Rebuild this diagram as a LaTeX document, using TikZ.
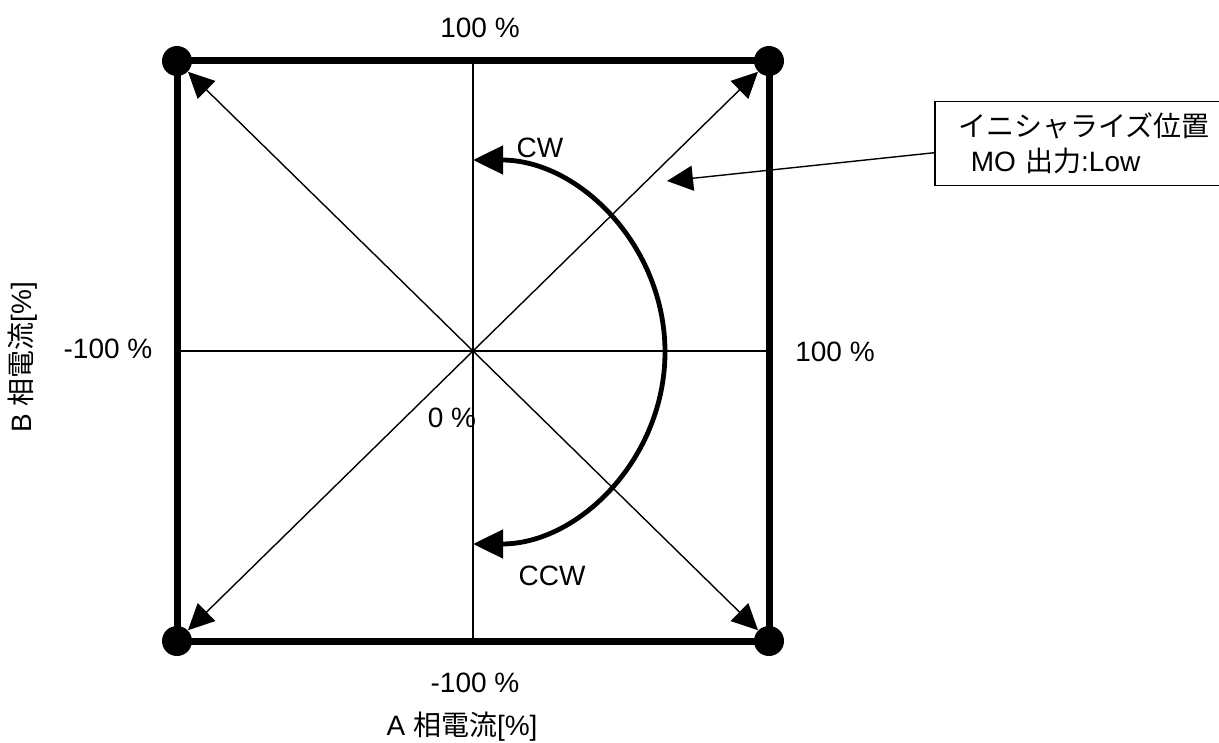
\documentclass[tikz,border=0pt]{standalone}
\usepackage{fontspec}
\setmainfont{Liberation Sans}
\newfontfamily\jpfont{Noto Sans CJK JP}
\usetikzlibrary{arrows.meta}

\tikzset{phdot/.style={circle,fill=black,inner sep=0pt,minimum size=15pt},
         phthin/.style={line width=0.7pt},
         phtip/.style={-{Triangle[length=13pt,width=12.5pt]}},
         phlab/.style={font=\fontsize{14}{17.5}\selectfont}}

\begin{document}
\begin{tikzpicture}[x=0.5pt, y=-0.5pt, every node/.style={phlab}]
  \clip (0,0) rectangle (1219,743);
  % corners and centre
  \coordinate (O) at (473,351);
  \draw[line width=3.5pt] (177,61) rectangle (769,641);
  \node[phdot] (tl) at (177,61) {};
  \node[phdot] (tr) at (769,61) {};
  \node[phdot] (br) at (769,641) {};
  \node[phdot] (bl) at (177,641) {};
  % axes
  \draw[phthin] (tl -| O) -- (bl -| O);
  \draw[phthin] (tl |- O) -- (tr |- O);
  % diagonals
  \foreach \c in {tl,tr,br,bl} \draw[phthin,phtip] (O) -- (\c);
  % rotation arc
  \coordinate (ccwend) at (473,544);
  \draw[line width=2.4pt, {Triangle[length=15pt,width=14pt]}-{Triangle[length=15pt,width=14pt]}]
    (ccwend) arc[start angle=90, end angle=-90, radius=192];
  % labels
  \node (ptop) at (480,28) {100 \%};
  \node (pbot) at (475,683) {-100 \%};
  \node (pleft) at (108,349) {-100 \%};
  \node (pright) at (835,352) {100 \%};
  \node (pzero) at (452,418) {0 \%};
  \node (cw) at (540,148) {CW};
  \node (ccw) at (552,576) {CCW};
  \node (alab) at (462,727) {A {\jpfont 相電流}[\%]};
  \node[rotate=90] (blab) at (23,357) {B {\jpfont 相電流}[\%]};
  % initialise position
  \node[draw, line width=0.75pt, anchor=north west, minimum width=145pt, minimum height=42pt,
        inner xsep=12pt, text width=121pt, align=left] (box) at (934,101)
    {{\jpfont イニシャライズ位置}\\\hspace*{6pt}MO {\jpfont 出力}:Low};
  \coordinate (ptr) at (667,181);
  \draw[phthin, -{Triangle[length=13pt,width=12.5pt]}] ([yshift=-4.5pt]box.west) -- (ptr);
\end{tikzpicture}
\end{document}
